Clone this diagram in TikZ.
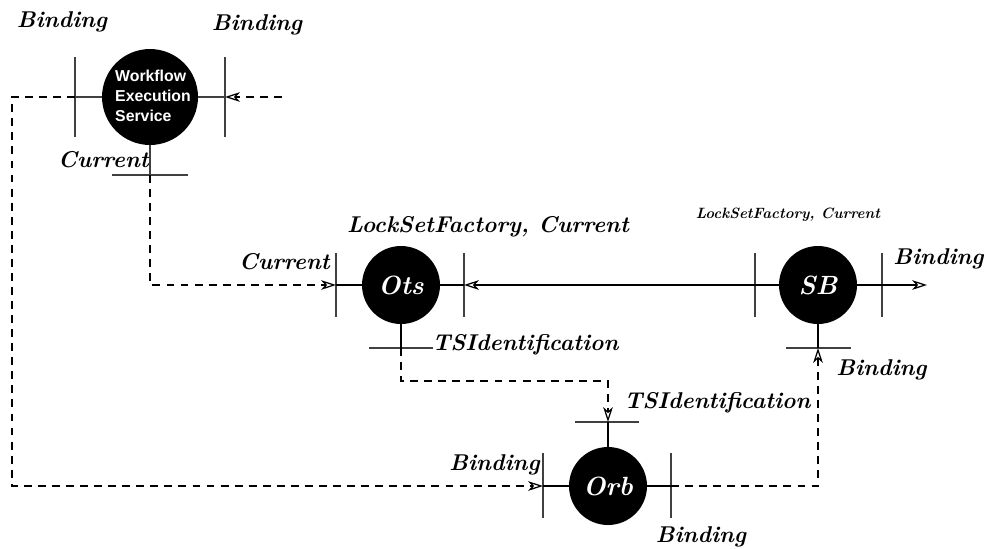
\documentclass[tikz,border=0pt]{standalone}
\usepackage{fontspec}
\newfontfamily\wesfont{Liberation Sans}
\usetikzlibrary{arrows.meta}
\begin{document}
\begin{tikzpicture}[x=0.02cm,y=-0.02cm,
  comp/.style={circle,fill=black,inner sep=0pt,minimum size=1.56cm,text=white,font=\fontsize{15}{17}\selectfont\bfseries\itshape},
  lbl/.style={font=\fontsize{13}{15}\selectfont\bfseries\itshape,inner sep=0pt},
  slbl/.style={font=\fontsize{8.5}{10}\selectfont\bfseries\itshape,inner sep=0pt},
  port/.style={line width=0.7pt,draw=black!75},
  link/.style={line width=0.7pt},
  dsh/.style={line width=0.7pt,dash pattern=on 4.5pt off 3.5pt},
  arr/.style={-{Stealth[open,length=8.5pt,width=5.5pt,inset=2.5pt,line width=0.7pt]}}]
\path[use as bounding box] (0,0) rectangle (986,548);

% components
\node[comp,minimum size=1.92cm] (wes) at (150,97) {};
\node[text=white,font=\wesfont\fontsize{9}{11.3}\selectfont\bfseries,align=left] (westxt) at (153,96) {Workflow\\Execution\\Service};
\node[comp] (ots) at (401,285) {Ots};
\node[comp] (sb) at (818,285) {SB};
\node[comp] (orb) at (608,486) {Orb};

% ports
\coordinate (wesL) at (75,97);
\coordinate (wesR) at (225,97);
\coordinate (wesB) at (150,175);
\coordinate (wesIn) at (282,97);
\coordinate (otsL) at (336,285);
\coordinate (otsR) at (464,285);
\coordinate (otsB) at (401,348);
\coordinate (sbL) at (755,285);
\coordinate (sbR) at (882,285);
\coordinate (sbB) at (818,348);
\coordinate (sbOut) at (927,285);
\coordinate (orbL) at (543,486);
\coordinate (orbR) at (671,486);
\coordinate (orbT) at (608,422);
\coordinate (k1) at (401,381);
\coordinate (k2) at (12,97);

% port bars
\draw[port] (wesL) ++(0,-40) -- ++(0,80);
\draw[port] (wesR) ++(0,-40) -- ++(0,80);
\draw[port] (wesB) ++(-38,0) -- ++(76,0);
\draw[port] (otsL) ++(0,-32) -- ++(0,64);
\draw[port] (otsR) ++(0,-32) -- ++(0,64);
\draw[port] (otsB) ++(-32,0) -- ++(64,0);
\draw[port] (sbL) ++(0,-32) -- ++(0,64);
\draw[port] (sbR) ++(0,-32) -- ++(0,64);
\draw[port] (sbB) ++(-32,0) -- ++(65,0);
\draw[port] (orbL) ++(0,-33) -- ++(0,65);
\draw[port] (orbR) ++(0,-33) -- ++(0,65);
\draw[port] (orbT) ++(-33,0) -- ++(64,0);

% stems
\draw[port] (wes.west) -- (wesL);
\draw[port] (wes.east) -- (wesR);
\draw[port] (wes.south) -- (wesB);
\draw[link] (ots.west) -- (otsL);
\draw[link] (ots.east) -- (otsR);
\draw[link] (ots.south) -- (otsB);
\draw[link] (sb.west) -- (sbL);
\draw[link] (sb.south) -- (sbB);
\draw[link] (orb.west) -- (orbL);
\draw[link] (orb.east) -- (orbR);
\draw[link] (orb.north) -- (orbT);

% connectors
\draw[dsh,arr] (wesIn) -- (wesR);
\draw[dsh,arr] (wesL) -- (k2) |- (orbL);
\draw[dsh,arr] (wesB) |- (otsL);
\draw[link,arr] (sbL) -- (otsR);
\draw[link,arr] (sb.east) -- (sbOut);
\draw[dsh,arr] (otsB) -- (k1) -| (orbT);
\draw[dsh,arr] (orbR) -| (sbB);

% labels
\node[lbl] (l1) at (62,22) {Binding};
\node[lbl] (l2) at (257,25) {Binding};
\node[lbl,anchor=east] (l3) at (149,160) {Current};
\node[lbl] (l4) at (488,227) {LockSetFactory, Current};
\node[lbl,anchor=east] (l5) at (330,262) {Current};
\node[lbl,anchor=west] (l6) at (432,345) {TSIdentification};
\node[slbl] (l7) at (788,215) {LockSetFactory, Current};
\node[lbl,anchor=west] (l8) at (893,259) {Binding};
\node[lbl,anchor=west] (l9) at (836,370) {Binding};
\node[lbl,anchor=west] (l10) at (624,403) {TSIdentification};
\node[lbl,anchor=east] (l11) at (540,465) {Binding};
\node[lbl] (l12) at (701,537) {Binding};
\end{tikzpicture}
\end{document}
